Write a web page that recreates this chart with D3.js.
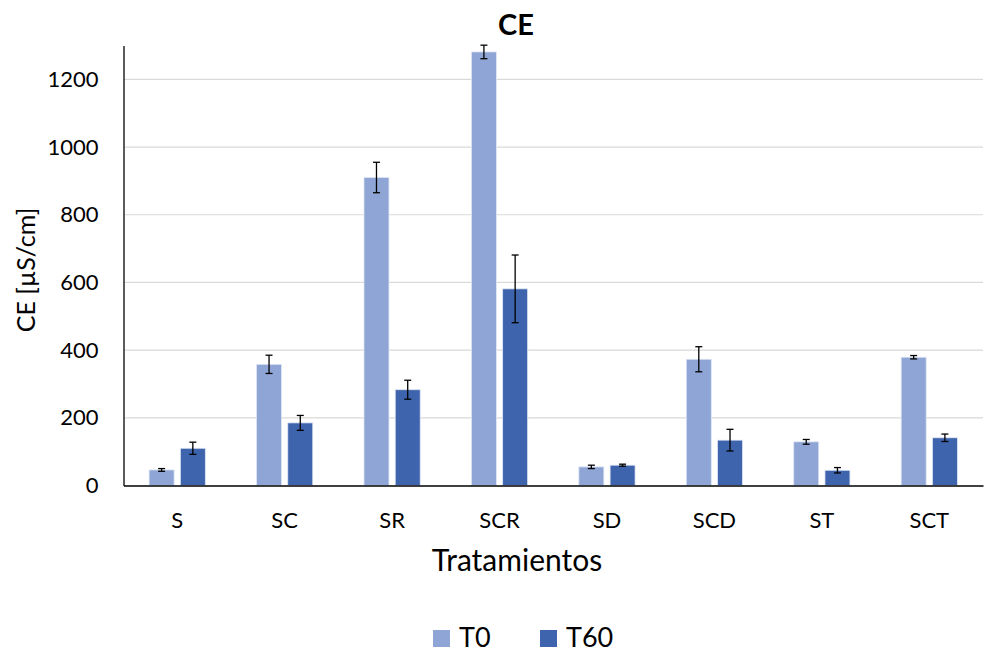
<!DOCTYPE html>
<html>
<head>
<meta charset="utf-8">
<script src="https://cdn.jsdelivr.net/npm/d3@7"></script>
<style>
  body { margin: 0; background: #fff; }
  text { font-family: Lato, "Open Sans", sans-serif; fill: #000; }
</style>
</head>
<body>
<svg></svg>
<script>
// chart data
const categories = ["S", "SC", "SR", "SCR", "SD", "SCD", "ST", "SCT"];
const seriesNames = ["T0", "T60"];
const t0Values = [46, 358, 910, 1281, 55, 373, 129, 379];
const t0Errors = [4, 27, 45, 20, 5, 37, 7, 5];
const t60Values = [110, 185, 283, 581, 60, 134, 45, 141];
const t60Errors = [18, 22, 28, 100, 3, 32, 8, 11];
const yTicks = [0, 200, 400, 600, 800, 1000, 1200];

const width = 999, height = 653;
const margin = { top: 45.5, bottom: 167.5, left: 123.5, right: 16 };
const colors = ["#8FA5D5", "#3D64AD"];

const svg = d3.select("svg")
    .attr("width", width)
    .attr("height", height);

const x = d3.scaleBand()
    .domain(categories)
    .range([margin.left, width - margin.right]);

// bars ~25px wide with a ~6px gap inside each category
const xSub = d3.scaleBand()
    .domain(seriesNames)
    .range([0, x.bandwidth()])
    .paddingInner(0.2)
    .paddingOuter(0.82);

const y = d3.scaleLinear()
    .domain([0, 1300])
    .range([height - margin.bottom, margin.top]);

// gridlines
svg.append("g")
  .selectAll("line")
  .data(yTicks.filter(d => d > 0))
  .join("line")
    .attr("x1", margin.left)
    .attr("x2", width - margin.right)
    .attr("y1", d => y(d))
    .attr("y2", d => y(d))
    .attr("stroke", "#d9d9d9")
    .attr("stroke-width", 1.2);

const rows = categories.map((c, i) => ({
  cat: c,
  vals: [
    { s: "T0", v: t0Values[i], e: t0Errors[i] },
    { s: "T60", v: t60Values[i], e: t60Errors[i] }
  ]
}));

const groups = svg.append("g")
  .selectAll("g")
  .data(rows)
  .join("g")
    .attr("transform", d => `translate(${x(d.cat)},0)`);

groups.selectAll("rect")
  .data(d => d.vals)
  .join("rect")
    .attr("x", d => xSub(d.s))
    .attr("width", xSub.bandwidth())
    .attr("y", d => y(d.v))
    .attr("height", d => y(0) - y(d.v))
    .attr("fill", (d, i) => colors[i])
    .attr("stroke", "#dfe6f3")
    .attr("stroke-width", 0.8);

// error bars
const errs = groups.selectAll("g.err")
  .data(d => d.vals)
  .join("g")
    .attr("class", "err")
    .attr("transform", d => `translate(${xSub(d.s) + xSub.bandwidth() / 2},0)`);

errs.append("line")
    .attr("y1", d => y(d.v - d.e))
    .attr("y2", d => y(d.v + d.e))
    .attr("stroke", "#000")
    .attr("stroke-width", 1.3);

errs.selectAll("line.cap")
  .data(d => [d.v - d.e, d.v + d.e])
  .join("line")
    .attr("class", "cap")
    .attr("x1", -3.5)
    .attr("x2", 3.5)
    .attr("y1", d => y(d))
    .attr("y2", d => y(d))
    .attr("stroke", "#000")
    .attr("stroke-width", 1.3);

// y axis
const yAxis = svg.append("g")
    .attr("transform", `translate(${margin.left},0)`)
    .call(d3.axisLeft(y).tickValues(yTicks).tickFormat(d3.format("d")).tickSize(0).tickPadding(25));
yAxis.select(".domain").attr("stroke", "#262626").attr("stroke-width", 1.5);
yAxis.selectAll("text").style("font-size", "22px").style("font-family", "Lato, sans-serif");

// x axis
const xAxis = svg.append("g")
    .attr("transform", `translate(0,${y(0)})`)
    .call(d3.axisBottom(x).tickSize(0).tickPadding(27));
xAxis.select(".domain").attr("stroke", "#000").attr("stroke-width", 1.5);
xAxis.selectAll("text").style("font-size", "22px").style("font-family", "Lato, sans-serif");

// titles
svg.append("text")
    .attr("x", 516)
    .attr("y", 35)
    .attr("text-anchor", "middle")
    .style("font-size", "29px")
    .style("font-weight", "bold")
    .text("CE");

svg.append("text")
    .attr("x", 517)
    .attr("y", 571)
    .attr("text-anchor", "middle")
    .style("font-size", "30px")
    .text("Tratamientos");

svg.append("text")
    .attr("transform", `translate(35,${270}) rotate(-90)`)
    .attr("text-anchor", "middle")
    .style("font-size", "25px")
    .text("CE [µS/cm]");

// legend
const legendX = [433, 540];
const legend = svg.append("g")
  .selectAll("g")
  .data(seriesNames)
  .join("g")
    .attr("transform", (d, i) => `translate(${legendX[i]},630)`);

legend.append("rect")
    .attr("width", 17)
    .attr("height", 17)
    .attr("fill", (d, i) => colors[i]);

legend.append("text")
    .attr("x", 26)
    .attr("y", 17)
    .style("font-size", "27px")
    .text(d => d);
</script>
</body>
</html>
